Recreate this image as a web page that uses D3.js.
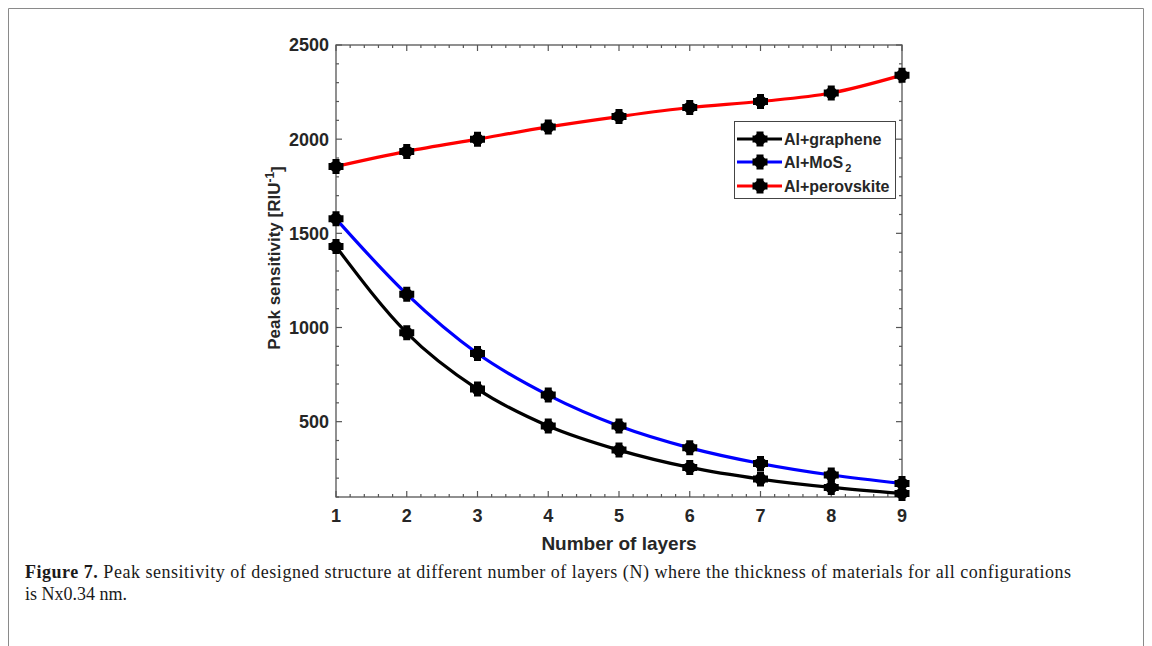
<!DOCTYPE html>
<html>
<head>
<meta charset="utf-8">
<script src="https://cdn.jsdelivr.net/npm/d3@7"></script>
<style>
  body { margin: 0; background: #fff; }
  svg { display: block; }
</style>
</head>
<body>
<svg id="fig" width="1152" height="646"></svg>
<script>
// values
const layers = [1, 2, 3, 4, 5, 6, 7, 8, 9];
const graphene = [1430, 972, 673, 477, 349, 257, 195, 151, 119];
const mos2 = [1577, 1177, 862, 641, 477, 361, 278, 217, 172];
const perovskite = [1855, 1935, 2000, 2065, 2120, 2168, 2200, 2245, 2340];
const yTicks = [500, 1000, 1500, 2000, 2500];
const seriesNames = ["Al+graphene", "Al+MoS", "Al+perovskite"];
const seriesColors = ["#000000", "#0000ff", "#ff0000"];

const svg = d3.select("#fig");

// page frame
svg.append("path")
    .attr("d", "M8.5,646 V8.5 H1143.5 V646")
    .attr("fill", "none")
    .attr("stroke", "#8a8a8a")
    .attr("stroke-width", 1);

let x = d3.scaleLinear().domain([1, 9]).range([336, 902]);
let y = d3.scaleLinear().domain([100, 2500]).range([497, 45]);

let axisCol = "#555";
let plot = svg.append("g");

// frame of the axes
plot.append("rect")
    .attr("x", x(1)).attr("y", y(2500))
    .attr("width", x(9) - x(1)).attr("height", y(100) - y(2500))
    .attr("fill", "none").attr("stroke", axisCol).attr("stroke-width", 1.3);

// inward ticks on all four sides
let xMinor = d3.range(1, 9.001, 0.2);
let yMinor = d3.range(100, 2500.1, 100);
function isMajorX(v) { return Math.abs(v - Math.round(v)) < 1e-6; }
function isMajorY(v) { return v % 500 === 0; }

xMinor.forEach(function(v) {
    let len = isMajorX(v) ? 6 : 3;
    plot.append("line").attr("x1", x(v)).attr("x2", x(v))
        .attr("y1", y(100)).attr("y2", y(100) - len)
        .attr("stroke", axisCol).attr("stroke-width", 1.2);
    plot.append("line").attr("x1", x(v)).attr("x2", x(v))
        .attr("y1", y(2500)).attr("y2", y(2500) + len)
        .attr("stroke", axisCol).attr("stroke-width", 1.2);
});
yMinor.forEach(function(v) {
    let len = isMajorY(v) ? 6 : 3;
    plot.append("line").attr("x1", x(1)).attr("x2", x(1) + len)
        .attr("y1", y(v)).attr("y2", y(v))
        .attr("stroke", axisCol).attr("stroke-width", 1.2);
    plot.append("line").attr("x1", x(9)).attr("x2", x(9) - len)
        .attr("y1", y(v)).attr("y2", y(v))
        .attr("stroke", axisCol).attr("stroke-width", 1.2);
});

// tick labels
let tickFont = "'Liberation Sans', Arial, sans-serif";
plot.selectAll("text.xt")
    .data(layers)
    .enter()
    .append("text")
    .attr("class", "xt")
    .attr("x", function(d) { return x(d); })
    .attr("y", 522)
    .attr("text-anchor", "middle")
    .attr("font-family", tickFont)
    .attr("font-weight", "bold")
    .attr("font-size", "18px")
    .attr("fill", "#262626")
    .text(function(d) { return d; });

plot.selectAll("text.yt")
    .data(yTicks)
    .enter()
    .append("text")
    .attr("class", "yt")
    .attr("x", 329)
    .attr("y", function(d) { return y(d); })
    .attr("dy", "0.36em")
    .attr("text-anchor", "end")
    .attr("font-family", tickFont)
    .attr("font-weight", "bold")
    .attr("font-size", "18px")
    .attr("fill", "#262626")
    .text(function(d) { return d; });

// axis titles
plot.append("text")
    .attr("x", x(5)).attr("y", 550)
    .attr("text-anchor", "middle")
    .attr("font-family", tickFont)
    .attr("font-weight", "bold")
    .attr("font-size", "19px")
    .attr("fill", "#262626")
    .text("Number of layers");

let yl = plot.append("text")
    .attr("transform", "translate(280,258) rotate(-90)")
    .attr("text-anchor", "middle")
    .attr("font-family", tickFont)
    .attr("font-weight", "bold")
    .attr("font-size", "17px")
    .attr("fill", "#262626");
yl.append("tspan").text("Peak sensitivity [RIU");
yl.append("tspan").attr("dy", "-0.5em").attr("font-size", "12px").text("-1");
yl.append("tspan").attr("dy", "0.5em").text("]");

// lines
let allSeries = [graphene, mos2, perovskite];
let line = d3.line()
    .x(function(d, i) { return x(layers[i]); })
    .y(function(d) { return y(d); })
    .curve(d3.curveMonotoneX);

// round marker with four short arms, as in the figure
function marker(g, cx, cy) {
    g.append("circle").attr("cx", cx).attr("cy", cy).attr("r", 6).attr("fill", "#000");
    g.append("path")
        .attr("d", "M" + (cx - 7.5) + "," + cy + "H" + (cx + 7.5) + "M" + cx + "," + (cy - 7.5) + "V" + (cy + 7.5))
        .attr("stroke", "#000").attr("stroke-width", 7);
}

allSeries.forEach(function(vals, k) {
    plot.append("path")
        .datum(vals)
        .attr("d", line)
        .attr("fill", "none")
        .attr("stroke", seriesColors[k])
        .attr("stroke-width", 3.2);
});
allSeries.forEach(function(vals) {
    let mg = plot.append("g");
    vals.forEach(function(v, i) { marker(mg, x(layers[i]), y(v)); });
});

// legend
let leg = plot.append("g");
leg.append("rect")
    .attr("x", 734.5).attr("y", 121.5).attr("width", 161).attr("height", 77)
    .attr("fill", "#fff").attr("stroke", "#444").attr("stroke-width", 1);
let rowY = [139, 162, 186];
seriesNames.forEach(function(name, k) {
    leg.append("line")
        .attr("x1", 737).attr("x2", 782)
        .attr("y1", rowY[k]).attr("y2", rowY[k])
        .attr("stroke", seriesColors[k]).attr("stroke-width", 3.2);
    marker(leg, 760, rowY[k]);
    let t = leg.append("text")
        .attr("x", 784).attr("y", rowY[k]).attr("dy", "0.36em")
        .attr("font-family", tickFont)
        .attr("font-weight", "bold")
        .attr("font-size", "16px")
        .attr("fill", "#262626")
        .text(name);
    if (k === 1) {
        t.append("tspan").attr("dy", "0.35em").attr("dx", "2").attr("font-size", "11px").text("2");
    }
});

// caption
let capFont = "'Liberation Serif', 'DejaVu Serif', serif";
let cap1 = svg.append("text")
    .attr("x", 25).attr("y", 578)
    .attr("font-family", capFont)
    .attr("font-size", "18px")
    .attr("fill", "#1a1a1a")
    .attr("textLength", 1046)
    .attr("lengthAdjust", "spacing");
cap1.append("tspan").attr("font-weight", "bold").text("Figure 7.");
cap1.append("tspan").text(" Peak sensitivity of designed structure at different number of layers (N) where the thickness of materials for all configurations");
svg.append("text")
    .attr("x", 25).attr("y", 600)
    .attr("font-family", capFont)
    .attr("font-size", "18px")
    .attr("fill", "#1a1a1a")
    .text("is Nx0.34 nm.");
</script>
</body>
</html>
